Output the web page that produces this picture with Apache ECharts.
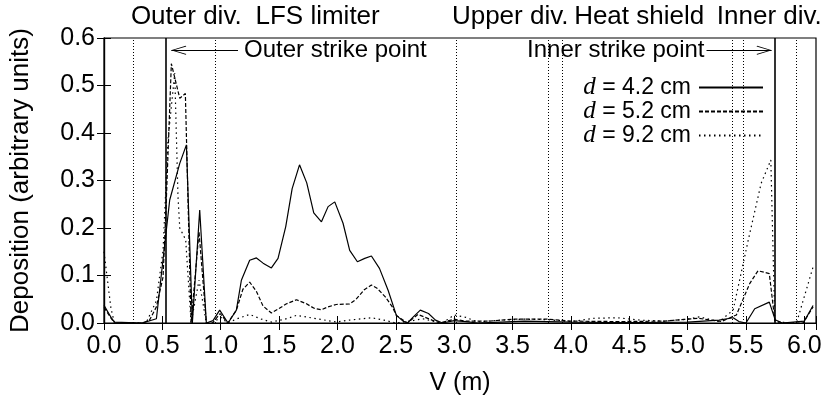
<!DOCTYPE html>
<html>
<head>
<meta charset="utf-8">
<script src="https://cdn.jsdelivr.net/npm/echarts@6/dist/echarts.min.js"></script>
<style>
html,body{margin:0;padding:0;background:#fff;}
#c{width:834px;height:401px;}
</style>
</head>
<body>
<div id="c"></div>
<script>
// ---- data (V in m, deposition in arbitrary units) ----
const seriesNames = ['d = 4.2 cm', 'd = 5.2 cm', 'd = 9.2 cm'];

const d42 = [
  [0,0.037],[0.06,0.012],[0.09,0.002],[0.33,0],[0.449,0.009],[0.563,0.259],[0.649,0.336],[0.706,0.375],
  [0.757,0],[0.82,0.238],[0.877,0],[0.934,0.005],[0.991,0.027],[1.063,0],[1.134,0.027],[1.177,0.09],
  [1.248,0.132],[1.306,0.137],[1.363,0.126],[1.434,0.116],[1.491,0.136],[1.557,0.203],[1.612,0.283],
  [1.675,0.333],[1.737,0.295],[1.797,0.232],[1.863,0.213],[1.92,0.245],[1.977,0.255],[2.048,0.21],
  [2.105,0.153],[2.171,0.129],[2.234,0.136],[2.291,0.141],[2.36,0.115],[2.434,0.069],[2.505,0.016],
  [2.562,0.004],[2.6,0],[2.65,0.013],[2.71,0.027],[2.78,0.02],[2.84,0.006],[2.9,0],[3.0,0.005],
  [3.1,0.003],[3.2,0],[3.4,0.002],[3.6,0.004],[3.8,0.003],[4.0,0.002],[4.3,0.001],[4.6,0.001],
  [5.0,0.002],[5.27,0.006],[5.39,0.011],[5.44,0.003],[5.5,0],[5.575,0.03],[5.70,0.044],[5.75,0.007],
  [5.81,0],[6.0,0.004],[6.075,0.037]
];
const d52 = [
  [0,0.033],[0.06,0.01],[0.09,0],[0.33,0],[0.39,0.006],[0.449,0.034],[0.506,0.097],[0.534,0.259],
  [0.577,0.546],[0.649,0.473],[0.697,0.483],[0.746,0],[0.814,0.192],[0.877,0],[0.93,0],[0.995,0.02],
  [1.06,0],[1.134,0.027],[1.19,0.071],[1.248,0.086],[1.305,0.067],[1.362,0.036],[1.434,0.021],
  [1.49,0.029],[1.56,0.04],[1.649,0.049],[1.73,0.041],[1.8,0.031],[1.863,0.028],[1.92,0.034],
  [1.99,0.039],[2.105,0.04],[2.16,0.05],[2.23,0.07],[2.291,0.08],[2.34,0.073],[2.41,0.055],
  [2.47,0.034],[2.505,0.016],[2.6,0],[2.69,0.018],[2.81,0.006],[2.88,0],[3.0,0.008],[3.1,0.004],
  [3.3,0.004],[3.5,0.008],[3.8,0.008],[4.0,0.004],[4.4,0.003],[4.8,0.004],[5.09,0.01],[5.29,0.003],
  [5.418,0.017],[5.532,0.083],[5.603,0.11],[5.70,0.104],[5.747,0.006],[5.81,0],[5.99,0],[6.075,0.034]
];
const d92 = [
  [0,0.15],[0.06,0.03],[0.09,0],[0.33,0],[0.37,0.005],[0.449,0.047],[0.506,0.153],[0.548,0.385],
  [0.606,0.526],[0.634,0.266],[0.649,0.2],[0.70,0.175],[0.746,0],[0.814,0.09],[0.877,0],[0.93,0],
  [1.0,0.012],[1.06,0],[1.13,0.008],[1.248,0.018],[1.35,0.008],[1.434,0.002],[1.55,0.008],
  [1.649,0.016],[1.8,0.01],[1.99,0.002],[2.1,0.006],[2.291,0.011],[2.4,0.006],[2.5,0],[2.6,0.003],
  [2.73,0.009],[2.85,0.002],[2.9,0],[3.0,0.017],[3.1,0.012],[3.2,0.002],[3.4,0.006],[3.6,0.008],
  [3.8,0.007],[4.0,0.003],[4.2,0.01],[4.4,0.011],[4.6,0.006],[4.8,0.004],[5.0,0.008],[5.1,0.013],
  [5.27,0.003],[5.39,0.027],[5.52,0.175],[5.63,0.294],[5.713,0.343],[5.747,0.002],[5.933,0],[6.075,0.118]
];

// region boundaries (m)
const dottedGuides = [0.25, 0.95, 3.02, 3.81, 3.93, 5.38, 5.48, 5.93];
const solidGuides = [0.53, 5.755];

// region names above the plot and their centre positions (m)
const regionNames = ['Outer div.', 'LFS limiter', 'Upper div.', 'Heat shield', 'Inner div.'];
const regionCentres = [0.705, 1.83, 3.48, 4.585, 5.7];

// strike point annotations: [text start, arrow tip] in m, at height in units
const outerArrow = [1.148, 0.577];
const innerArrow = [5.162, 5.719];
const arrowLevel = 0.574;

const xTicks = {min: 0, max: 6.1, interval: 0.5};
const yTicks = {min: 0, max: 0.6, interval: 0.1};

// ---- chart ----
const FONT = 'Liberation Sans, Arial, Helvetica, sans-serif';
const chart = echarts.init(document.getElementById('c'), null, {renderer: 'canvas'});

// open arrow head whose tip sits at the centre of its box
const chevron = 'path://M0,0 L6,14 L5,14.6 L0,2.4 L-5,14.6 L-6,14 Z M0,-14 L0.01,-14 L0,-13.99 Z';

const guideLines = [];
dottedGuides.forEach(v => guideLines.push({xAxis: v, lineStyle: {type: [1, 2], width: 1, color: '#000'}}));
solidGuides.forEach(v => guideLines.push({xAxis: v, lineStyle: {type: 'solid', width: 1.6, color: '#000'}}));

const arrowStyle = {color: '#000', width: 1.1, type: 'solid'};
const arrowLabel = {show: true, position: 'start', color: '#000', fontSize: 24, fontFamily: FONT};
const arrows = [
  [{coord: [outerArrow[0], arrowLevel], symbol: 'none', lineStyle: arrowStyle,
    label: Object.assign({}, arrowLabel, {formatter: 'Outer strike point', distance: 6})},
   {coord: [outerArrow[1], arrowLevel], symbol: chevron, symbolSize: [9, 30]}],
  [{coord: [innerArrow[0], arrowLevel], symbol: 'none', lineStyle: arrowStyle,
    label: Object.assign({}, arrowLabel, {formatter: 'Inner strike point', distance: 2})},
   {coord: [innerArrow[1], arrowLevel], symbol: chevron, symbolSize: [9, 30]}]
];

const lineTypes = ['solid', [4, 2], [1.5, 3.5]];
const datasets = [d42, d52, d92];

const series = datasets.map((d, i) => ({
  name: seriesNames[i],
  type: 'line',
  data: d,
  symbol: 'none',
  silent: true,
  animation: false,
  lineStyle: {color: '#000', width: 1.2, type: lineTypes[i]},
  itemStyle: {color: '#000'},
  z: 3
}));
series.push({
  name: 'guides',
  type: 'line',
  data: [],
  symbol: 'none',
  silent: true,
  animation: false,
  markLine: {
    silent: true,
    animation: false,
    symbol: 'none',
    label: {show: false},
    data: guideLines.concat(arrows)
  }
});

const fmt1 = v => (Math.abs(v * 2 - Math.round(v * 2)) < 1e-6 ? v.toFixed(1) : '');

const option = {
  backgroundColor: '#fff',
  animation: false,
  grid: {left: 104, right: 18, top: 38, bottom: 78, show: true, borderColor: '#000', borderWidth: 1.2, backgroundColor: 'transparent'},
  legend: {
    data: seriesNames,
    orient: 'vertical',
    align: 'right',
    right: 70,
    top: 75,
    padding: 0,
    itemWidth: 64,
    itemHeight: 14,
    itemGap: -1,
    selectedMode: false,
    itemStyle: {opacity: 0, borderWidth: 0},
    textStyle: {
      color: '#000', fontSize: 23, fontFamily: FONT, lineHeight: 22,
      rich: {
        i: {fontFamily: 'Liberation Serif, Times New Roman, serif', fontStyle: 'italic', fontSize: 25, lineHeight: 22, color: '#000'},
        t: {fontSize: 23, fontFamily: FONT, lineHeight: 22, color: '#000', padding: [0, 3, 0, 0]}
      }
    },
    formatter: name => '{i|d}{t|' + name.slice(1) + '}'
  },
  xAxis: [{
    type: 'value', min: xTicks.min, max: xTicks.max, interval: xTicks.interval,
    name: 'V (m)', nameLocation: 'middle', nameGap: 48,
    nameTextStyle: {color: '#000', fontSize: 25, fontFamily: FONT},
    axisLine: {show: true, lineStyle: {color: '#000', width: 1.2}},
    axisTick: {show: true, inside: true, length: 7, lineStyle: {color: '#000'}},
    axisLabel: {color: '#000', fontSize: 25, fontFamily: FONT, margin: 11, formatter: fmt1},
    splitLine: {show: false}
  }, {
    type: 'value', min: xTicks.min, max: xTicks.max, interval: xTicks.interval, position: 'top',
    axisLine: {show: true, lineStyle: {color: '#000', width: 1.2}},
    axisTick: {show: true, inside: true, length: 7, lineStyle: {color: '#000'}},
    axisLabel: {show: false}, splitLine: {show: false}
  }],
  yAxis: [{
    type: 'value', min: yTicks.min, max: yTicks.max, interval: yTicks.interval,
    name: 'Deposition (arbitrary units)', nameLocation: 'middle', nameGap: 70, nameRotate: 90,
    nameTextStyle: {color: '#000', fontSize: 26, fontFamily: FONT},
    axisLine: {show: true, lineStyle: {color: '#000', width: 1.2}},
    axisTick: {show: true, inside: true, length: 7, lineStyle: {color: '#000'}},
    axisLabel: {color: '#000', fontSize: 25, fontFamily: FONT, margin: 9, formatter: v => v.toFixed(1)},
    splitLine: {show: false}
  }, {
    type: 'value', min: yTicks.min, max: yTicks.max, interval: yTicks.interval, position: 'right',
    axisLine: {show: true, lineStyle: {color: '#000', width: 1.2}},
    axisTick: {show: true, inside: true, length: 7, lineStyle: {color: '#000'}},
    axisLabel: {show: false}, splitLine: {show: false}
  }],
  series: series
};
chart.setOption(option);

// region names above the plot, placed through the x axis scale
chart.setOption({
  graphic: regionNames.map((t, i) => ({
    type: 'text',
    x: chart.convertToPixel({xAxisIndex: 0}, regionCentres[i]),
    y: 4,
    silent: true,
    style: {text: t, fill: '#000', font: '26px ' + FONT, textAlign: 'center'}
  }))
});
</script>
</body>
</html>
